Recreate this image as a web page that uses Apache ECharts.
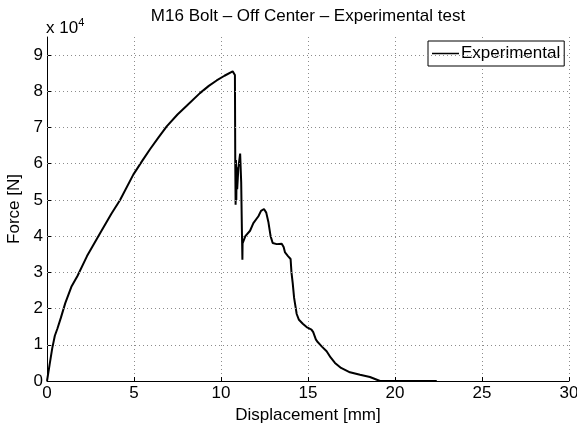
<!DOCTYPE html>
<html>
<head>
<meta charset="utf-8">
<script src="https://cdn.jsdelivr.net/npm/echarts@6/dist/echarts.min.js"></script>
<style>html,body{margin:0;padding:0;background:#fff}#c{width:577px;height:423px}</style>
</head>
<body>
<div id="c"></div>
<script>
const titleText = 'M16 Bolt \u2013 Off Center \u2013 Experimental test';
const xLabel = 'Displacement [mm]';
const yLabel = 'Force [N]';
const seriesName = 'Experimental';
const xTicks = [0, 5, 10, 15, 20, 25, 30];
const yTicks = [0, 10000, 20000, 30000, 40000, 50000, 60000, 70000, 80000, 90000];
const displacement = [0,0.15,0.3,0.45,0.6,0.8,1.05,1.4,1.75,2.3,3.05,3.7,4.2,4.96,5.5,5.92,6.4,6.88,7.5,8.03,8.79,9.3,9.75,10.2,10.67,10.77,10.8,10.82,10.84,10.86,10.88,10.9,10.93,11.0,11.1,11.16,11.2,11.23,11.24,11.4,11.67,11.86,12.15,12.3,12.47,12.6,12.72,12.85,12.97,13.2,13.49,13.6,13.68,13.85,14.0,14.05,14.12,14.2,14.25,14.35,14.48,14.7,14.92,15.2,15.3,15.45,15.53,15.8,16.07,16.3,16.55,16.9,17.41,17.99,18.56,19.14,22.4];
const force = [0,4500,9000,12500,14500,17500,21500,26000,29000,34500,40800,46200,50000,57000,61000,64000,67200,70300,73600,76000,79500,81500,83000,84300,85500,85500,84500,60000,48700,61000,50000,59000,53000,59000,62800,55000,42000,33500,38000,40000,41500,43600,45500,47000,47500,46500,44000,40000,38100,37800,37900,37000,35500,34500,33700,30000,27100,23000,21500,18500,16900,15800,14900,14200,13500,11500,10900,9500,8200,6500,5000,3600,2400,1700,1100,0,0];

const data = displacement.map((x, i) => [x, force[i]]);
const FONT = 'Liberation Sans, Arial, Helvetica, sans-serif';
const chart = echarts.init(document.getElementById('c'), null, {renderer: 'canvas'});
const gridStyle = {color: '#8c8c8c', width: 1, type: [1, 3]};
chart.setOption({
  animation: false,
  backgroundColor: '#fff',
  grid: {left: 47, right: 8, top: 37, bottom: 42, containLabel: false, outerBoundsMode: 'none'},
  graphic: [
    {type: 'text', x: 308, y: 16, style: {text: titleText, fontSize: 17, fontFamily: FONT, fill: '#000', textAlign: 'center', textVerticalAlign: 'middle'}},
    {type: 'text', x: 46, y: 28, style: {text: '{a|x 10}{b|4}', fontFamily: FONT, textVerticalAlign: 'middle',
      rich: {a: {fontSize: 17, fontFamily: FONT, fill: '#000', color: '#000'}, b: {fontSize: 11, fontFamily: FONT, color: '#000', verticalAlign: 'top', padding: [0, 0, 10, 0]}}}}
  ],
  legend: {
    show: true, data: [{name: seriesName, icon: 'rect'}], left: 428, top: 41, orient: 'horizontal',
    backgroundColor: '#fff', borderColor: '#000', borderWidth: 1, borderRadius: 0,
    padding: [4, 4, 4, 4], itemWidth: 27, itemHeight: 1.5, itemGap: 0,
    textStyle: {fontSize: 17, fontFamily: FONT, color: '#000', padding: [0, 0, 0, -3]}
  },
  xAxis: {
    type: 'value', min: 0, max: 30, interval: 5,
    name: xLabel, nameLocation: 'middle', nameGap: 20,
    nameTextStyle: {fontSize: 17, fontFamily: FONT, color: '#000'},
    axisLine: {show: true, onZero: false, lineStyle: {color: '#000', width: 1}},
    axisTick: {show: true, inside: true, length: 4, lineStyle: {color: '#000'}},
    axisLabel: {fontSize: 17, fontFamily: FONT, color: '#000', margin: 4, customValues: xTicks},
    splitLine: {show: true, lineStyle: gridStyle}
  },
  yAxis: {
    type: 'value', min: 0, max: 95000,
    name: yLabel, nameLocation: 'middle', nameGap: 20, nameRotate: 90,
    nameTextStyle: {fontSize: 17, fontFamily: FONT, color: '#000'},
    axisLine: {show: true, onZero: false, lineStyle: {color: '#000', width: 1}},
    axisTick: {show: true, inside: true, length: 4, lineStyle: {color: '#000'}, customValues: yTicks},
    axisLabel: {fontSize: 17, fontFamily: FONT, color: '#000', margin: 4, customValues: yTicks,
      formatter: v => String(Math.round(v / 10000))},
    splitLine: {show: false}
  },
  series: [{
    name: seriesName, type: 'line', data: data, symbol: 'none', showSymbol: false,
    lineStyle: {color: '#000', width: 2}, itemStyle: {color: '#000'},
    markLine: {
      silent: true, symbol: 'none', label: {show: false}, animation: false,
      lineStyle: gridStyle,
      data: yTicks.filter(v => v > 0).map(v => ({yAxis: v}))
    }
  }]
});
</script>
</body>
</html>
